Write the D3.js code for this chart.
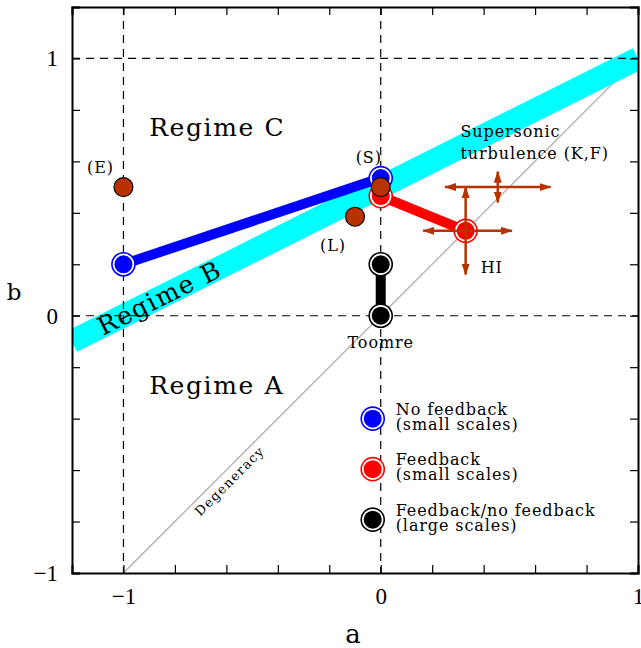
<!DOCTYPE html>
<html>
<head>
<meta charset="utf-8">
<script src="https://cdn.jsdelivr.net/npm/d3@7"></script>
<style>
  body { margin: 0; background: #fff; }
  svg { display: block; }
  .tick text { font-family: "Liberation Serif", "DejaVu Serif", serif; font-size: 23px; fill: #000; }
  .lbl { font-family: "DejaVu Serif", serif; font-size: 16px; letter-spacing: 0.9px; fill: #000; }
  .regime { font-family: "DejaVu Serif", serif; font-size: 25px; letter-spacing: 1.6px; fill: #000; }
  .axis-title { font-family: "DejaVu Serif", serif; fill: #000; }
</style>
</head>
<body>
<svg id="chart" width="641" height="648"></svg>
<script>
// ---- data ----
const xDomain = [-1.2, 1]
const yDomain = [-1, 1.2]
const xTicks = [-1.2, -1, -0.8, -0.6, -0.4, -0.2, 0, 0.2, 0.4, 0.6, 0.8, 1]
const yTicks = [-1, -0.8, -0.6, -0.4, -0.2, 0, 0.2, 0.4, 0.6, 0.8, 1, 1.2]
const labelledTicks = [-1, 0, 1]
const refLinesA = [-1, 0]
const refLinesB = [0, 1]

const degeneracy = [{a: -1, b: -1}, {a: 1, b: 1}]
const regimeB = [{a: -1.2, b: -0.1}, {a: 1, b: 1.0}]

const noFeedbackSmall = [{a: -1, b: 0.2}, {a: 0, b: 0.535}]
const feedbackSmall = [{a: 0, b: 0.465}, {a: 0.33, b: 0.33}]
const feedbackLarge = [{a: 0, b: 0.2}, {a: 0, b: 0}]

const observed = [
  {a: -1, b: 0.5, label: "(E)"},
  {a: 0, b: 0.5, label: "(S)"},
  {a: -0.1, b: 0.385, label: "(L)"}
]

// error crosses: centre, a-range, b-range
const hiCross = {a: 0.33, b: 0.33, a0: 0.165, a1: 0.51, b0: 0.16, b1: 0.5}
const turbCross = {a: 0.455, b: 0.5, a0: 0.25, a1: 0.66, b0: 0.44, b1: 0.56}

const legendItems = [
  {color: "#0000ff", lines: ["No feedback", "(small scales)"]},
  {color: "#ff0000", lines: ["Feedback", "(small scales)"]},
  {color: "#000000", lines: ["Feedback/no feedback", "(large scales)"]}
]

// ---- layout ----
const margin = {top: 7, right: 3, bottom: 75, left: 72}
const width = 641, height = 648
const w = width - margin.left - margin.right
const h = height - margin.top - margin.bottom
const brown = "#b83200"

const svg = d3.select("#chart")
const defs = svg.append("defs")
defs.append("clipPath").attr("id", "plot-clip")
  .append("rect").attr("width", w).attr("height", h)
defs.append("marker")
  .attr("id", "arrow")
  .attr("viewBox", "0 0 12 8")
  .attr("refX", 11).attr("refY", 4)
  .attr("markerWidth", 12).attr("markerHeight", 8)
  .attr("markerUnits", "userSpaceOnUse")
  .attr("orient", "auto-start-reverse")
  .append("path").attr("d", "M0,0 L12,4 L0,8 Z").attr("fill", brown)

const g = svg.append("g").attr("transform", `translate(${margin.left},${margin.top})`)

const x = d3.scaleLinear().domain(xDomain).range([0, w])
const y = d3.scaleLinear().domain(yDomain).range([h, 0])
const line = d3.line().x(d => x(d.a)).y(d => y(d.b))

const plot = g.append("g").attr("clip-path", "url(#plot-clip)")

// degeneracy line
plot.append("path").attr("d", line(degeneracy))
  .attr("stroke", "#aaa").attr("stroke-width", 1.2).attr("fill", "none")

// regime B band
plot.append("path").attr("d", line(regimeB))
  .attr("stroke", "#00ffff").attr("stroke-width", 23).attr("fill", "none")

// dashed reference lines
plot.selectAll(".vref").data(refLinesA).enter().append("line")
  .attr("x1", d => x(d)).attr("x2", d => x(d)).attr("y1", 0).attr("y2", h)
  .attr("stroke", "#000").attr("stroke-width", 1.2).attr("stroke-dasharray", "8,6")
plot.selectAll(".href").data(refLinesB).enter().append("line")
  .attr("y1", d => y(d)).attr("y2", d => y(d)).attr("x1", 0).attr("x2", w)
  .attr("stroke", "#000").attr("stroke-width", 1.2).attr("stroke-dasharray", "8,6")

// model tracks
const tracks = [
  {data: noFeedbackSmall, color: "#0000ff"},
  {data: feedbackSmall, color: "#ff0000"},
  {data: feedbackLarge, color: "#000000"}
]
tracks.forEach(t => {
  plot.append("path").attr("d", line(t.data))
    .attr("stroke", t.color).attr("stroke-width", 10).attr("fill", "none")
})

function ringMarker (sel, cx, cy, color) {
  sel.append("circle").attr("cx", cx).attr("cy", cy).attr("r", 11.5)
    .attr("fill", "#fff").attr("stroke", color).attr("stroke-width", 1.6)
  sel.append("circle").attr("cx", cx).attr("cy", cy).attr("r", 9)
    .attr("fill", color)
}
tracks.forEach(t => {
  t.data.forEach(d => ringMarker(plot, x(d.a), y(d.b), t.color))
})

// observed points
plot.selectAll(".obs").data(observed).enter().append("circle")
  .attr("cx", d => x(d.a)).attr("cy", d => y(d.b)).attr("r", 9.5)
  .attr("fill", brown).attr("stroke", "#000").attr("stroke-width", 1.1)

// error crosses
function cross (c) {
  plot.append("line")
    .attr("x1", x(c.a0)).attr("x2", x(c.a1)).attr("y1", y(c.b)).attr("y2", y(c.b))
    .attr("stroke", brown).attr("stroke-width", 2.5)
    .attr("marker-start", "url(#arrow)").attr("marker-end", "url(#arrow)")
  plot.append("line")
    .attr("x1", x(c.a)).attr("x2", x(c.a)).attr("y1", y(c.b0)).attr("y2", y(c.b1))
    .attr("stroke", brown).attr("stroke-width", 2.5)
    .attr("marker-start", "url(#arrow)").attr("marker-end", "url(#arrow)")
}
cross(hiCross)
cross(turbCross)

// labels
const lbl = g.append("g")
lbl.append("text").attr("class", "lbl").attr("x", x(observed[0].a) - 23).attr("y", y(observed[0].b) - 14)
  .attr("text-anchor", "middle").text(observed[0].label)
lbl.append("text").attr("class", "lbl").attr("x", x(observed[1].a) - 12).attr("y", y(observed[1].b) - 24)
  .attr("text-anchor", "middle").text(observed[1].label)
lbl.append("text").attr("class", "lbl").attr("x", x(observed[2].a) - 22).attr("y", y(observed[2].b) + 34)
  .attr("text-anchor", "middle").text(observed[2].label)
lbl.append("text").attr("class", "lbl").attr("x", x(hiCross.a) + 15).attr("y", y(hiCross.b) + 42).text("HI")
lbl.append("text").attr("class", "lbl").attr("x", x(0)).attr("y", y(0) + 32)
  .attr("text-anchor", "middle").text("Toomre")
lbl.append("text").attr("class", "lbl").attr("x", x(0.31)).attr("y", y(0.5) - 50).text("Supersonic")
lbl.append("text").attr("class", "lbl").attr("x", x(0.31)).attr("y", y(0.5) - 28).text("turbulence (K,F)")

lbl.append("text").attr("class", "regime").attr("x", x(-0.9)).attr("y", y(0.7)).text("Regime C")
lbl.append("text").attr("class", "regime").attr("x", x(-0.9)).attr("y", y(-0.305)).text("Regime A")
lbl.append("text").attr("class", "regime")
  .attr("transform", `translate(${x(-0.86)},${y(0.07)}) rotate(-26.6)`)
  .attr("text-anchor", "middle").attr("dy", "0.35em").text("Regime B")
lbl.append("text").attr("class", "lbl")
  .attr("transform", `translate(${x(-0.575)},${y(-0.655)}) rotate(-45)`)
  .attr("text-anchor", "middle").attr("fill", "#777")
  .style("font-size", "13px").style("letter-spacing", "1.3px").text("Degeneracy")

// legend
const legend = g.append("g").attr("transform", `translate(${x(0) - 8},${y(-0.4)})`)
legendItems.forEach((d, i) => {
  const row = legend.append("g").attr("transform", `translate(0,${i * 50.5})`)
  ringMarker(row, 0, 0, d.color)
  d.lines.forEach((t, j) => {
    row.append("text").attr("class", "lbl")
      .attr("x", 23).attr("y", -4 + j * 15).text(t)
  })
})

// axes
const fmt = d => labelledTicks.some(v => Math.abs(v - d) < 1e-9) ? d3.format("")(d).replace("-", "\u2212 ") : ""
g.append("g").attr("transform", `translate(0,${h})`)
  .call(d3.axisBottom(x).tickValues(xTicks).tickSize(-8).tickPadding(15).tickFormat(fmt))
g.append("g")
  .call(d3.axisLeft(y).tickValues(yTicks).tickSize(-8).tickPadding(14).tickFormat(fmt))
g.append("g")
  .call(d3.axisTop(x).tickValues(xTicks).tickSize(-8).tickFormat(""))
g.append("g").attr("transform", `translate(${w},0)`)
  .call(d3.axisRight(y).tickValues(yTicks).tickSize(-8).tickFormat(""))
g.selectAll(".domain").attr("stroke", "#000").attr("stroke-width", 2)
g.selectAll(".tick line").attr("stroke", "#000").attr("stroke-width", 1.2)

g.append("text").attr("class", "axis-title").attr("x", w / 2 - 2).attr("y", h + 70)
  .attr("text-anchor", "middle").style("font-size", "26px").text("a")
g.append("text").attr("class", "axis-title").attr("x", -58).attr("y", h / 2 + 10)
  .attr("text-anchor", "middle").style("font-size", "23px").text("b")
</script>
</body>
</html>
